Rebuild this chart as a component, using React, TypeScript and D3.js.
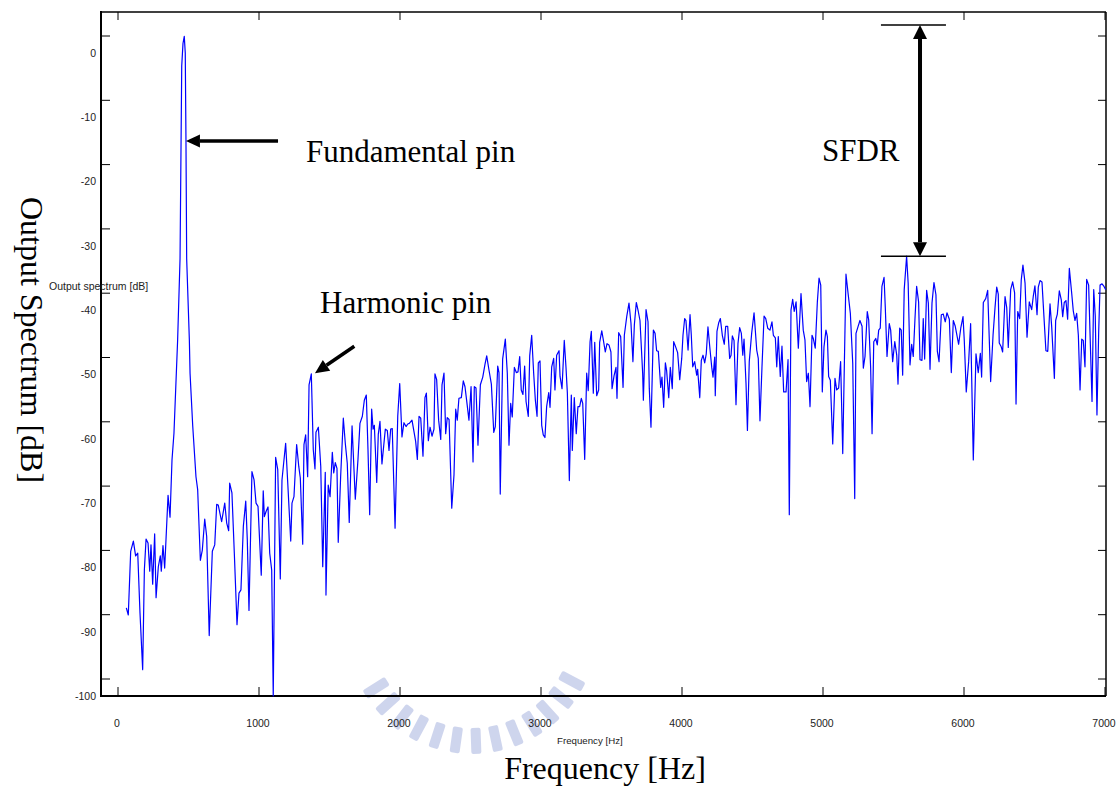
import React from "react";
import * as d3 from "d3";

// axis ticks
const xTicks = [0, 1000, 2000, 3000, 4000, 5000, 6000, 7000];
const yTicks = [0, -10, -20, -30, -40, -50, -60, -70, -80, -90, -100];

// spectrum, [frequency Hz, level dB]
const lowBand: [number, number][] = [
  [59, -86.3], [73, -87.4], [90, -77.5], [109, -75.9], [125, -78.2], [140, -77.8], [156, -87.1], [175, -95.9], [187, -80.4], [199, -75.6],
  [213, -76.2], [225, -80.6], [234, -76.5], [246, -82.6], [260, -74.8], [270, -84.7], [286, -79.9], [300, -78.2], [307, -80.6], [319, -76.6],
  [331, -80.1], [355, -68.8], [369, -72.2], [383, -63.3], [397, -59.1], [409, -52.4], [423, -44.6], [440, -32], [452, -2], [461, 1.5],
  [470, 2.6], [477, 0], [482, -13.5], [487, -32], [506, -44.6], [511, -49.8], [530, -58], [553, -65.9], [565, -67.9], [584, -78.9],
  [598, -77.3], [615, -72.5], [629, -75.2], [647, -90.6], [669, -77.5], [686, -76.5], [700, -70.2], [711, -70.3], [735, -72.9], [757, -70],
  [771, -73.1], [785, -74.3], [792, -66.9], [808, -68.4], [825, -77.8], [844, -88.9], [858, -84], [872, -83.5], [889, -73.6], [906, -69.7],
  [917, -75.7], [929, -86.7], [950, -65.1], [965, -66.4], [979, -70], [993, -70.5], [1016, -81.2], [1030, -68.1], [1038, -72.1], [1050, -71.3],
  [1064, -70.6], [1076, -77.8], [1090, -80.4], [1101, -100], [1118, -62.9], [1133, -64.8], [1151, -81.8], [1163, -66.4], [1189, -60.7], [1204, -66.9],
  [1225, -75.9], [1234, -70], [1248, -69], [1267, -60.9], [1282, -64.3], [1293, -66.1], [1310, -76.4], [1319, -60.9], [1331, -59.4], [1345, -65.9],
  [1355, -51.6], [1371, -49.9], [1385, -61.7], [1397, -64.7], [1404, -59], [1421, -58.2], [1438, -64.3], [1452, -79.9], [1470, -65.2], [1475, -84.3],
  [1491, -67.2], [1504, -69],
];

const band2: [number, number][] = [
  [1520, -62.1], [1530, -65.3], [1541, -63.7], [1553, -64.6], [1562, -76.1], [1579, -65.9], [1598, -56.8], [1612, -60.7], [1626, -63.8], [1640, -73],
  [1660, -58], [1683, -69.4], [1702, -63.2], [1716, -57.6], [1733, -56.5], [1747, -54], [1761, -53.2], [1773, -61.7], [1785, -71.8], [1799, -55.4],
  [1809, -58.5], [1818, -57.9], [1835, -66.8], [1846, -59.3], [1858, -57.3], [1872, -63.9], [1884, -61.2], [1896, -58.5], [1910, -58.7], [1922, -61.8],
  [1934, -58.5], [1945, -58.4], [1965, -73.9], [1984, -56.5], [1998, -51.4], [2014, -59.7], [2028, -57.5], [2043, -58.1], [2055, -57.7], [2066, -57.6],
  [2085, -57.1], [2097, -58.6], [2111, -60.4], [2123, -63.2], [2135, -56.5], [2147, -56.8], [2163, -62.7], [2177, -53.6], [2187, -52.9], [2201, -60.3],
  [2213, -58.2], [2227, -59.6], [2241, -58.5], [2248, -49.9], [2260, -50.8], [2274, -57.1], [2289, -60.1], [2298, -51.6], [2312, -49.8], [2324, -59.2],
  [2335, -56.7], [2348, -57], [2367, -70.8], [2383, -65.6], [2395, -55.4], [2406, -57.1], [2418, -53.7], [2435, -53.6], [2449, -51], [2461, -51.9],
  [2473, -54.1], [2489, -57.1], [2504, -51.9], [2518, -63.6], [2527, -51.9], [2539, -52.1], [2553, -61], [2570, -51.6], [2587, -50.4], [2603, -48.4],
  [2615, -47.1], [2631, -49.3], [2648, -51.5], [2665, -59], [2676, -58.1], [2693, -48.7], [2702, -49.7], [2711, -68.6], [2728, -47.6], [2747, -44.5],
  [2761, -49.8], [2773, -61], [2785, -54.5], [2796, -56.6], [2811, -48.9], [2825, -49.7], [2837, -49.6], [2849, -47.2], [2860, -52.4], [2872, -53.1],
  [2884, -48.7], [2894, -54.2], [2910, -56.5], [2920, -47.1], [2934, -43.9], [2948, -49.8], [2960, -54], [2972, -56.5], [2981, -48.2], [2993, -47.9],
];

const band3: [number, number][] = [
  [3005, -57.9], [3016, -59.4], [3028, -59.8], [3040, -55], [3055, -52.8], [3064, -55.1], [3076, -48.8], [3090, -47.5], [3099, -52.4], [3111, -47],
  [3128, -46.3], [3135, -50.3], [3149, -52.2], [3165, -44.7], [3177, -48.8], [3187, -52.9], [3201, -66.5], [3215, -53.2], [3222, -61.8], [3236, -53.6],
  [3250, -59.2], [3262, -55], [3274, -55], [3286, -53.7], [3296, -54.5], [3310, -63.2], [3324, -49.8], [3335, -52.5], [3348, -44.9], [3357, -43.3],
  [3371, -52.9], [3381, -45], [3395, -53.3], [3409, -52.4], [3416, -45], [3431, -43.2], [3442, -44.6], [3456, -46.5], [3468, -45.2], [3482, -45.4],
  [3496, -46.5], [3504, -52.2], [3518, -50.2], [3532, -48.9], [3539, -53.7], [3551, -43.5], [3565, -44.1], [3582, -52], [3591, -43.9], [3608, -41],
  [3624, -38.9], [3638, -42], [3652, -48], [3662, -42.3], [3676, -38.8], [3690, -40.2], [3702, -41.6], [3721, -49.8], [3726, -54], [3745, -39.9],
  [3759, -41.8], [3768, -52.2], [3780, -58.2], [3797, -43.1], [3809, -43.6], [3820, -46.3], [3832, -46.4], [3849, -52], [3858, -50.4], [3870, -55.1],
  [3882, -48.2], [3891, -49.4], [3906, -53.6], [3917, -48.9], [3931, -52.2], [3941, -44.9], [3955, -45.7], [3969, -46.6], [3984, -50.8], [3998, -47.5],
  [4007, -43.9], [4019, -41.3], [4028, -41.6], [4043, -46.2], [4057, -40.7], [4066, -43.9], [4076, -48.8], [4090, -48], [4104, -50.1], [4111, -49.2],
  [4126, -53.6], [4137, -47.8], [4149, -47], [4161, -48.2], [4172, -46.8], [4184, -42.6], [4199, -46.2], [4211, -48.9], [4220, -50.4], [4232, -47.3],
  [4236, -53.3], [4248, -43.3], [4260, -42], [4272, -41.3], [4286, -43.9], [4300, -45.3], [4310, -42.5], [4324, -42.5], [4338, -47.5], [4348, -47],
  [4357, -44], [4369, -44.7], [4383, -54.7], [4397, -45.2], [4409, -42.7], [4421, -43.6], [4431, -47], [4440, -44.5], [4454, -51.4], [4464, -58.7],
];

const band4: [number, number][] = [
  [4477, -48], [4494, -43.6], [4511, -40.4], [4530, -46.2], [4541, -47.5], [4553, -57.2], [4567, -49], [4582, -40.9], [4594, -41.3], [4608, -42.8],
  [4624, -43.1], [4638, -41.8], [4648, -43.9], [4662, -44.3], [4672, -48.8], [4683, -44.1], [4697, -50.3], [4709, -45.6], [4721, -52.7], [4738, -52.7],
  [4752, -47.7], [4761, -71.8], [4773, -40], [4785, -38.3], [4796, -40.2], [4809, -38.7], [4825, -45.9], [4844, -37.4], [4860, -43.1], [4872, -44.6],
  [4884, -51.1], [4896, -49.8], [4908, -55], [4922, -43.9], [4931, -44.4], [4945, -45.9], [4960, -38.7], [4972, -35], [4984, -36.1], [4995, -52.7],
  [5007, -45.7], [5021, -43.1], [5031, -44.1], [5040, -50.3], [5052, -50.9], [5069, -60.8], [5085, -50.6], [5097, -52.4], [5111, -52.1], [5125, -48],
  [5140, -62.3], [5163, -34.4], [5179, -37.6], [5194, -40.5], [5211, -48.3], [5225, -69.3], [5234, -43.6], [5248, -42.6], [5262, -41.6], [5277, -42.5],
  [5286, -49], [5298, -47.2], [5314, -40.2], [5324, -41.5], [5338, -49], [5348, -59.2], [5360, -44.9], [5374, -44.4], [5385, -45.4], [5395, -43.1],
  [5406, -42.8], [5418, -36.3], [5433, -34.9], [5442, -39.7], [5454, -47.2], [5470, -42.1], [5480, -43.1], [5494, -48], [5509, -44.9], [5523, -47],
  [5532, -51.5], [5544, -42.8], [5555, -43.1], [5565, -50.1], [5576, -36.8], [5593, -31.6], [5604, -35.8], [5617, -48.5], [5629, -45.3], [5640, -47.2],
  [5652, -41.5], [5664, -36.3], [5678, -38.7], [5688, -47.7],
];

const band5: [number, number][] = [
  [5702, -47.8], [5711, -41.3], [5721, -47.6], [5735, -36.9], [5747, -38.9], [5759, -49.2], [5773, -38.9], [5787, -35.7], [5801, -37.6], [5811, -46.4],
  [5823, -48], [5839, -40.7], [5853, -40.6], [5867, -41.8], [5879, -40.4], [5896, -41.4], [5910, -49.7], [5924, -41.6], [5938, -42.5], [5950, -43.9],
  [5962, -45.3], [5977, -42.8], [5993, -41], [6002, -44.7], [6016, -52.7], [6033, -48], [6047, -42.1], [6066, -63.3], [6085, -46.8], [6101, -49.7],
  [6116, -46.7], [6125, -50.4], [6137, -38.8], [6154, -38.2], [6168, -36.9], [6189, -51.1], [6206, -43.9], [6220, -39.6], [6232, -36.4], [6243, -37.5],
  [6250, -45.1], [6264, -45.7], [6274, -46.5], [6291, -37.9], [6303, -39.6], [6314, -45.8], [6331, -36.8], [6345, -35.6], [6359, -37.3], [6369, -54.6],
  [6381, -40.2], [6395, -41.3], [6406, -35.3], [6418, -33], [6433, -35.8], [6447, -44.2], [6463, -38.7], [6480, -39.9], [6491, -37.9], [6503, -36.2],
  [6518, -40.7], [6527, -36.4], [6539, -35.4], [6553, -35.6], [6567, -41], [6581, -46.3], [6594, -46.4], [6610, -39], [6622, -42.6], [6641, -50.6],
  [6650, -41.6], [6662, -40.6], [6676, -37], [6690, -38.4], [6700, -41], [6711, -38.8], [6723, -38.5], [6735, -41.4], [6747, -33.5], [6764, -37.4],
  [6775, -40.1], [6787, -41.6], [6799, -40.5], [6811, -43.9], [6823, -52.4], [6835, -44.5], [6846, -44.7], [6858, -48.8], [6870, -35.2], [6884, -36.1],
  [6896, -45.2], [6908, -54.2], [6920, -36.8], [6931, -40.9], [6943, -56.3], [6955, -43.6], [6965, -36.1], [6979, -35.9], [6993, -36.3], [7005, -36.8],
];

// annotation anchors in data units
const fundArrow = { fromHz: 1135, toHz: 482, db: -13.7 };
const harmArrow = { fromHz: 1676, fromDb: -45.6, toHz: 1397, toDb: -49.8 };
const sfdr = { hz: 5688, topDb: 4.35, spurDb: -31.6, barFrom: 5411, barTo: 5872 };

const serif = "'Liberation Serif', 'Times New Roman', serif";
const sans = "'Liberation Sans', Arial, sans-serif";

function head(tx: number, ty: number, fx: number, fy: number, len: number, half: number) {
  const a = Math.atan2(ty - fy, tx - fx);
  const bx = tx - len * Math.cos(a);
  const by = ty - len * Math.sin(a);
  const px = -Math.sin(a) * half;
  const py = Math.cos(a) * half;
  return {
    base: [bx, by],
    points: `${tx},${ty} ${bx + px},${by + py} ${bx - px},${by - py}`,
  };
}

export default function App() {
  const width = 1120;
  const height = 790;
  const frame = { left: 101, right: 1106, top: 12, bottom: 696 };
  const tickShift = 17; // the y tick marks sit above their labels in the original

  const x = d3.scaleLinear().domain([0, 7000]).range([118, 1105]);
  const y = d3.scaleLinear().domain([-100, 0]).range([696, 53]);

  const spectrum = [...lowBand, ...band2, ...band3, ...band4, ...band5];
  const line = d3.line<[number, number]>()
    .x(d => x(d[0]))
    .y(d => y(d[1]));

  // fundamental arrow
  const fx1 = x(fundArrow.fromHz), fx2 = x(fundArrow.toHz), fy = y(fundArrow.db);
  const fHead = head(fx2, fy, fx1, fy, 14, 6.5);

  // harmonic arrow
  const hx1 = x(harmArrow.fromHz), hy1 = y(harmArrow.fromDb);
  const hx2 = x(harmArrow.toHz), hy2 = y(harmArrow.toDb);
  const hHead = head(hx2, hy2, hx1, hy1, 14, 6.5);

  // SFDR double arrow
  const sx = x(sfdr.hz), sTop = y(sfdr.topDb), sBot = y(sfdr.spurDb);
  const topHead = head(sx, sTop, sx, sBot, 14, 7);
  const botHead = head(sx, sBot, sx, sTop, 14, 7);

  // faint watermark: bowl of bars below the x axis
  const wmAngles = d3.range(13).map(i => 28 + i * 10);

  return (
    <svg width={width} height={height} style={{ position: "absolute", left: 0, top: 0, background: "#fff" }}>
      {/* watermark */}
      <g transform="translate(472,628)" fill="#95a3d9" opacity={0.45}>
        {wmAngles.map(a => (
          <rect key={a} x={100} y={-5} width={26} height={10} rx={2}
            transform={`rotate(${a})`} />
        ))}
      </g>

      {/* frame */}
      <g stroke="#000" fill="none">
        <line x1={frame.left} x2={frame.right} y1={frame.top} y2={frame.top} strokeWidth={1.5} />
        <line x1={frame.right} x2={frame.right} y1={frame.top} y2={frame.bottom} strokeWidth={1.5} />
        <line x1={frame.left} x2={frame.left} y1={frame.top - 1} y2={frame.bottom + 1} strokeWidth={2} />
        <line x1={frame.left - 1} x2={frame.right} y1={frame.bottom} y2={frame.bottom} strokeWidth={2} />
      </g>

      {/* x ticks, top and bottom */}
      <g stroke="#000" strokeWidth={1}>
        {xTicks.map(t => (
          <g key={t}>
            <line x1={x(t)} x2={x(t)} y1={frame.bottom} y2={frame.bottom - 9} />
            <line x1={x(t)} x2={x(t)} y1={frame.top} y2={frame.top + 8} />
          </g>
        ))}
      </g>
      <g fontFamily={sans} fontSize={10.5} fill="#222" textAnchor="middle">
        {xTicks.map(t => (
          <text key={t} x={x(t) - 1} y={727}>{t}</text>
        ))}
      </g>

      {/* y ticks, left and right */}
      <g stroke="#000" strokeWidth={1}>
        {yTicks.map(t => (
          <g key={t}>
            <line x1={frame.left} x2={frame.left + 9} y1={y(t) - tickShift} y2={y(t) - tickShift} />
            <line x1={frame.right} x2={frame.right - 8} y1={y(t) - tickShift} y2={y(t) - tickShift} />
          </g>
        ))}
      </g>
      <g fontFamily={sans} fontSize={10.5} fill="#222" textAnchor="end">
        {yTicks.map(t => (
          <text key={t} x={96} y={y(t) + 3.8}>{t}</text>
        ))}
      </g>

      {/* spectrum */}
      <path d={line(spectrum) ?? ""} fill="none" stroke="#0000ff" strokeWidth={1.2} strokeLinejoin="round" />

      {/* small original axis titles */}
      <text x={49} y={290} fontFamily={sans} fontSize={10.5} fill="#222">Output spectrum [dB]</text>
      <text x={557} y={744} fontFamily={sans} fontSize={9.7} fill="#222">Frequency [Hz]</text>

      {/* big axis titles */}
      <text x={605} y={779} fontFamily={serif} fontSize={32} textAnchor="middle" fill="#000">Frequency [Hz]</text>
      <text transform="translate(21,340) rotate(90)" fontFamily={serif} fontSize={32} textAnchor="middle" fill="#000">
        Output Spectrum [dB]
      </text>

      {/* fundamental annotation */}
      <line x1={fx1} y1={fy} x2={fHead.base[0]} y2={fHead.base[1]} stroke="#000" strokeWidth={3.5} />
      <polygon points={fHead.points} fill="#000" />
      <text x={306} y={162} fontFamily={serif} fontSize={31} fill="#000">Fundamental pin</text>

      {/* harmonic annotation */}
      <line x1={hx1} y1={hy1} x2={hHead.base[0]} y2={hHead.base[1]} stroke="#000" strokeWidth={3.5} />
      <polygon points={hHead.points} fill="#000" />
      <text x={320} y={313} fontFamily={serif} fontSize={31} fill="#000">Harmonic pin</text>

      {/* SFDR annotation */}
      <g stroke="#000">
        <line x1={x(sfdr.barFrom)} x2={x(sfdr.barTo)} y1={sTop} y2={sTop} strokeWidth={1.5} />
        <line x1={x(sfdr.barFrom)} x2={x(sfdr.barTo)} y1={sBot} y2={sBot} strokeWidth={1.5} />
        <line x1={sx} x2={sx} y1={topHead.base[1]} y2={botHead.base[1]} strokeWidth={4} />
      </g>
      <polygon points={topHead.points} fill="#000" />
      <polygon points={botHead.points} fill="#000" />
      <text x={822} y={161} fontFamily={serif} fontSize={31} fill="#000">SFDR</text>
    </svg>
  );
}
